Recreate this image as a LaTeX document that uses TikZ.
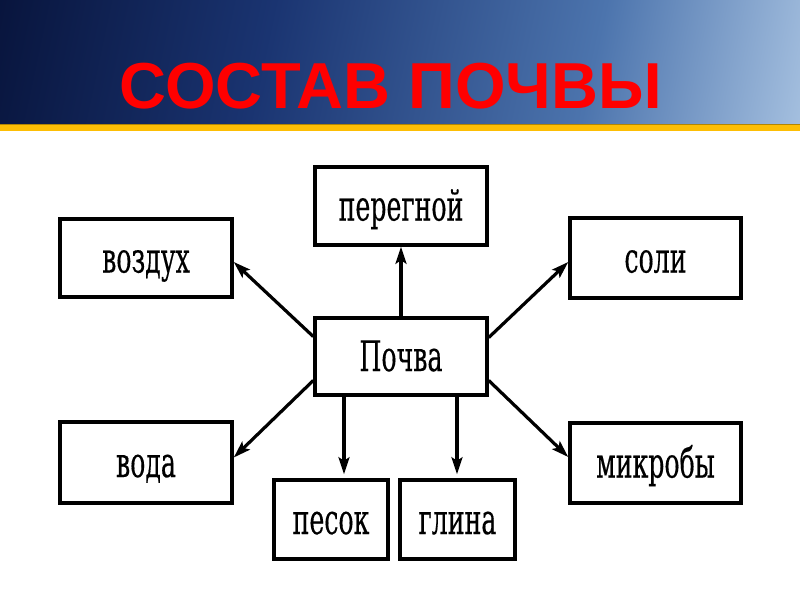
\documentclass[tikz,border=0pt]{standalone}
\usepackage{fontspec}
\setmainfont{Liberation Sans}
\newfontfamily\titlefont{Liberation Sans}
\newfontfamily\boxfont[FakeStretch=0.6,FakeBold=0.3]{DejaVu Serif}
\usetikzlibrary{arrows.meta,calc}
\definecolor{hdA}{HTML}{010828}
\definecolor{hdB}{HTML}{1A3471}
\definecolor{hdC}{HTML}{4C74AD}
\definecolor{hdD}{HTML}{C6DCF2}
\definecolor{gold}{HTML}{FDBE05}
\definecolor{titlered}{HTML}{FF0000}
\pgfdeclarehorizontalshading{hdshade}{100bp}{color(0bp)=(hdA); color(12bp)=(hdA); color(40bp)=(hdB); color(64bp)=(hdC); color(86bp)=(hdD); color(100bp)=(hdD)}
\tikzset{
  boxnode/.style={draw=black, line width=3.5pt, fill=white, inner sep=0pt,
    text height=29pt, text depth=0pt,
    font=\boxfont\fontsize{42}{46}\selectfont},
  conn/.style={line width=3.2pt, draw=black,
    -{Stealth[length=17pt,width=11pt,inset=3.5pt]}},
}
\begin{document}
\begin{tikzpicture}[x=1pt,y=-1pt]
\useasboundingbox (0,0) rectangle (800,600);
\fill[white] (0,0) rectangle (800,600);
% header
\shade[shading=hdshade, shading angle=-12] (0,0) rectangle (800,124);
\fill[gold] (0,124) rectangle (800,131);
\draw[gold!70!black, line width=0.8pt] (0,124) -- (800,124);
\node[text=titlered, font=\titlefont\bfseries\fontsize{65}{70}\selectfont, anchor=base] (title) at (391,108) {СОСТАВ ПОЧВЫ};
% boxes
\node[boxnode, minimum width=172, minimum height=78] (pereg) at (401,206) {перегной};
\node[boxnode, minimum width=172, minimum height=78] (vozd) at (146,258) {воздух};
\node[boxnode, minimum width=171, minimum height=80] (soli) at (655.5,258) {соли};
\node[boxnode, minimum width=172, minimum height=77] (poch) at (401,356.5) {Почва};
\node[boxnode, minimum width=172, minimum height=81] (voda) at (146,462.5) {вода};
\node[boxnode, minimum width=171, minimum height=80] (mikr) at (655.5,463) {микробы};
\node[boxnode, minimum width=114, minimum height=79] (pesok) at (331,519.5) {песок};
\node[boxnode, minimum width=115, minimum height=79] (glina) at (457.5,519.5) {глина};
% connectors
\draw[conn] (poch.north) -- (pereg.south);
\draw[conn] ([yshift=20pt]poch.west) -- ([yshift=-4pt]vozd.east);
\draw[conn] ([yshift=19pt]poch.east) -- ([yshift=-4pt]soli.west);
\draw[conn] ([yshift=-24pt]poch.west) -- ([yshift=5pt]voda.east);
\draw[conn] ([yshift=-24pt]poch.east) -- ([yshift=6pt]mikr.west);
\draw[conn] ([xshift=-57pt]poch.south) -- ([xshift=13pt,yshift=4pt]pesok.north);
\draw[conn] ([xshift=56pt]poch.south) -- ([xshift=-0.5pt,yshift=4pt]glina.north);
\end{tikzpicture}
\end{document}
